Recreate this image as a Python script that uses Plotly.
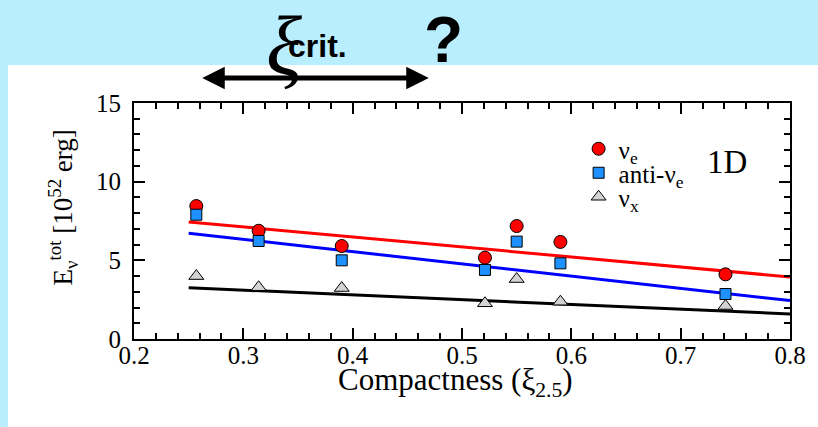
import plotly.graph_objects as go

# Progenitor compactness and total emitted energy per flavour [1e52 erg]
compactness = [0.257, 0.314, 0.390, 0.521, 0.550, 0.590, 0.741]
e_nue = [8.45, 6.88, 5.91, 5.17, 7.18, 6.17, 4.11]
e_anue = [7.90, 6.23, 5.00, 4.39, 6.19, 4.81, 2.86]
e_nux = [4.00, 3.29, 3.24, 2.27, 3.81, 2.37, 2.10]

# Linear fits, evaluated at the ends of the fitted range
fit_x = [0.25, 0.80]
fit_nue = [7.44, 3.94]
fit_anue = [6.72, 2.44]
fit_nux = [3.26, 1.59]

x_ticks = [0.2, 0.3, 0.4, 0.5, 0.6, 0.7, 0.8]
y_ticks = [0, 5, 10, 15]

SERIF = "Liberation Serif"
SANS = "Liberation Sans Narrow, Liberation Sans"

# plot area spans pixels 134..795 horizontally and 103..339 vertically
L, R, T, B = 134, 23, 103, 88
W, H = 818, 427
pw, ph = W - L - R, H - T - B


def px(x):
    return (x - L) / pw


def py(y):
    return (H - B - y) / ph


fig = go.Figure()

# fit lines
for yv, col in [(fit_nue, "#ff0000"), (fit_anue, "#0000ff"), (fit_nux, "#000000")]:
    fig.add_trace(go.Scatter(x=fit_x, y=yv, mode="lines",
                             line=dict(color=col, width=3), showlegend=False,
                             hoverinfo="skip"))

# data points, each with its own legend entry box
fig.add_trace(go.Scatter(x=compactness, y=e_nue, mode="markers", name="ν<sub>e</sub>",
                         legend="legend",
                         marker=dict(symbol="circle", size=13, color="#ff0000",
                                     line=dict(color="#000000", width=1))))
fig.add_trace(go.Scatter(x=compactness, y=e_anue, mode="markers", name="anti-ν<sub>e</sub>",
                         legend="legend2",
                         marker=dict(symbol="square", size=11, color="#1e90ff",
                                     line=dict(color="#000000", width=1))))
fig.add_trace(go.Scatter(x=compactness, y=e_nux, mode="markers", name="ν<sub>x</sub>",
                         legend="legend3",
                         marker=dict(symbol="triangle-up", size=13, color="#d3d3d3",
                                     line=dict(color="#000000", width=1))))

# white panel on the light-blue page
fig.add_shape(type="rect", xref="paper", yref="paper",
              x0=px(7), x1=px(830), y0=py(440), y1=py(65),
              fillcolor="white", line=dict(width=0), layer="below")

tick_font = dict(family=SERIF, size=25, color="black")
axis_common = dict(
    showline=True, linecolor="black", linewidth=2, mirror="ticks",
    ticks="inside", ticklen=11, tickwidth=2, tickcolor="black",
    showgrid=False, zeroline=False, tickfont=tick_font,
)

fig.update_xaxes(range=[0.2, 0.8], tickvals=x_ticks, ticktext=[f"{v:.1f}" for v in x_ticks],
                 ticklabelstandoff=-7,
                 minor=dict(dtick=0.02, tick0=0.2, ticks="inside", ticklen=6,
                            tickwidth=2, tickcolor="black"),
                 **axis_common)
fig.update_yaxes(range=[0, 15], tickvals=y_ticks, ticktext=[str(v) for v in y_ticks],
                 ticklabelstandoff=6,
                 minor=dict(dtick=1, tick0=0, ticks="inside", ticklen=6,
                            tickwidth=2, tickcolor="black"),
                 **axis_common)


def label(text, x, y, family, size, angle=0):
    return dict(text=text, x=px(x), y=py(y), xref="paper", yref="paper",
                xanchor="center", yanchor="middle", showarrow=False, textangle=angle,
                font=dict(family=family, size=size, color="black"))


annotations = [
    # axis titles
    label("Compactness (ξ<sub>2.5</sub>)", 458, 382, SERIF, 31),
    label("E<sub>ν</sub><sup>tot</sup> [10<sup>52</sup> erg]", 62, 208, SERIF, 27, -90),
    label("1D", 732, 162, SERIF, 33),
    # heading: critical compactness?
    label("<i>ξ</i>", 285, 45, SERIF, 84),
    label("<b>crit.</b>", 319, 46, SANS, 32),
    label("<b>?</b>", 446, 40, "Liberation Sans", 64),
    # double-headed range arrow
    dict(text="", x=px(431), y=py(78), xref="paper", yref="paper",
         ax=-228, ay=0, axref="pixel", ayref="pixel", showarrow=True,
         arrowhead=2, arrowside="end+start", arrowwidth=5, arrowsize=0.9,
         arrowcolor="black"),
]

legend_style = dict(xanchor="left", yanchor="middle", bgcolor="rgba(0,0,0,0)",
                    font=dict(family=SERIF, size=25, color="black"), itemwidth=30,
                    borderwidth=0)

fig.update_layout(
    width=W, height=H,
    margin=dict(l=L, r=R, t=T, b=B),
    paper_bgcolor="#b9eefe",
    plot_bgcolor="rgba(0,0,0,0)",
    font=dict(family=SERIF, size=25, color="black"),
    showlegend=True,
    legend=dict(x=px(582), y=py(149), **legend_style),
    legend2=dict(x=px(582), y=py(173), **legend_style),
    legend3=dict(x=px(582), y=py(197), **legend_style),
    annotations=annotations,
)

fig.write_html("out.html")
